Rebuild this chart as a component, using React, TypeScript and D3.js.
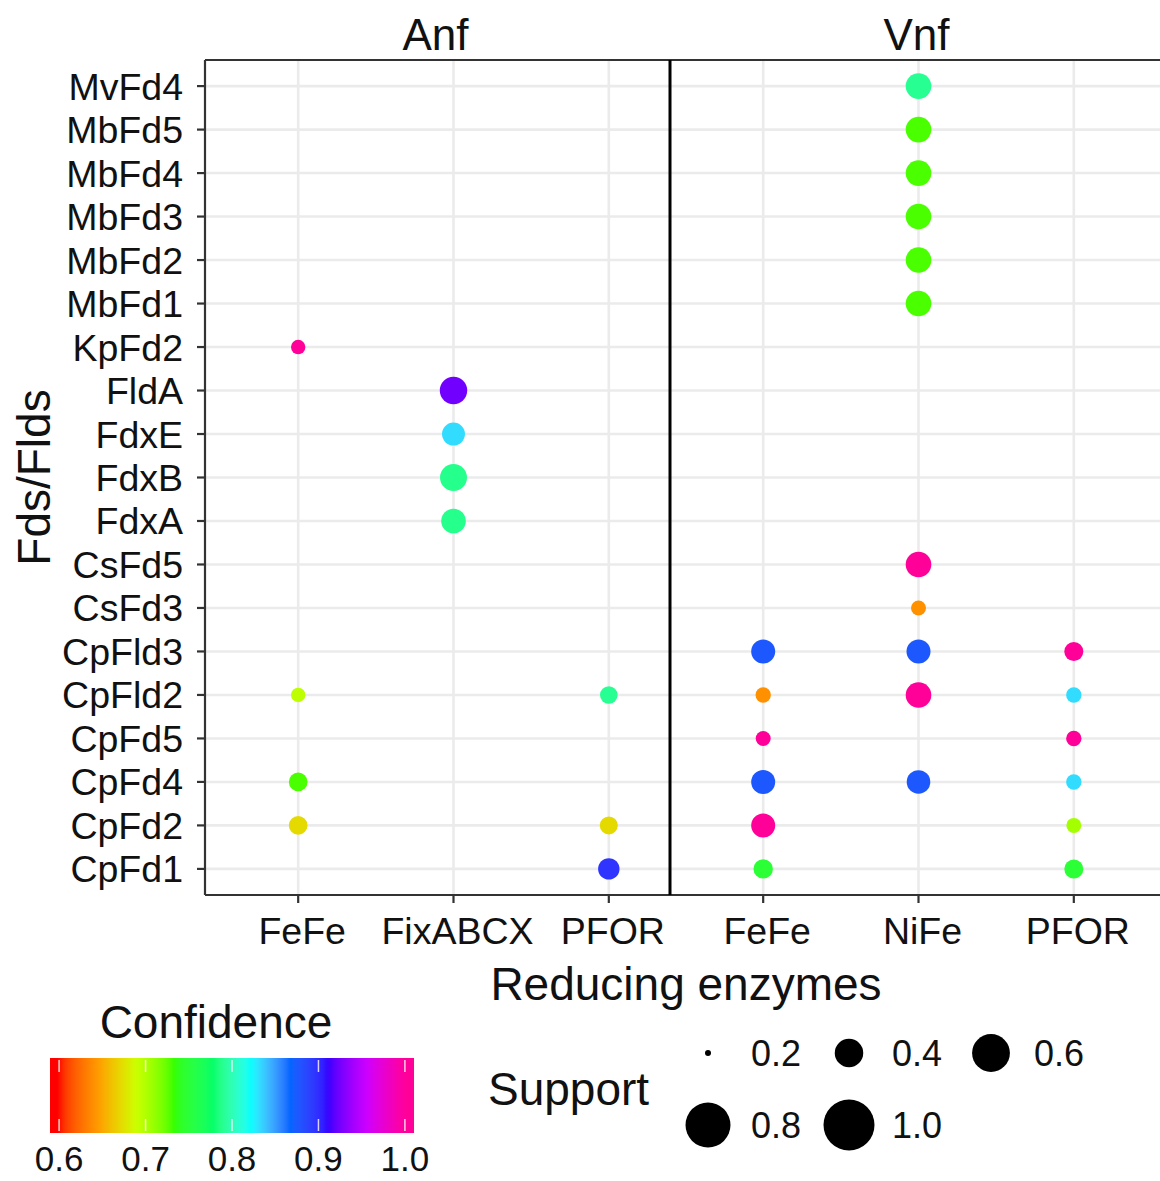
import * as d3 from "d3";
import { useEffect, useRef } from "react";

const WIDTH = 1160;
const HEIGHT = 1181;
const FONT = "'Liberation Sans', Arial, Helvetica, sans-serif";

// y categories, top to bottom
const fdIds = [
  "MvFd4", "MbFd5", "MbFd4", "MbFd3", "MbFd2", "MbFd1", "KpFd2", "FldA", "FdxE", "FdxB",
  "FdxA", "CsFd5", "CsFd3", "CpFld3", "CpFld2", "CpFd5", "CpFd4", "CpFd2", "CpFd1",
];

const anfEnzymes = ["FeFe", "FixABCX", "PFOR"];
const vnfEnzymes = ["FeFe", "NiFe", "PFOR"];

// [fd, enzyme, confidence, support]
const anfPoints: [string, string, number, number][] = [
  ["KpFd2", "FeFe", 1.0, 0.228],
  ["FldA", "FixABCX", 0.924, 0.381],
  ["FdxE", "FixABCX", 0.832, 0.314],
  ["FdxB", "FixABCX", 0.788, 0.374],
  ["FdxA", "FixABCX", 0.788, 0.337],
  ["CpFld2", "FeFe", 0.695, 0.228],
  ["CpFld2", "PFOR", 0.79, 0.253],
  ["CpFd4", "FeFe", 0.73, 0.263],
  ["CpFd2", "FeFe", 0.672, 0.263],
  ["CpFd2", "PFOR", 0.672, 0.257],
  ["CpFd1", "PFOR", 0.896, 0.294],
];

const vnfPoints: [string, string, number, number][] = [
  ["MvFd4", "NiFe", 0.79, 0.352],
  ["MbFd5", "NiFe", 0.73, 0.352],
  ["MbFd4", "NiFe", 0.73, 0.352],
  ["MbFd3", "NiFe", 0.73, 0.352],
  ["MbFd2", "NiFe", 0.73, 0.352],
  ["MbFd1", "NiFe", 0.73, 0.352],
  ["CsFd5", "NiFe", 1.0, 0.352],
  ["CsFd3", "NiFe", 0.64, 0.232],
  ["CpFld3", "FeFe", 0.876, 0.328],
  ["CpFld3", "NiFe", 0.876, 0.328],
  ["CpFld3", "PFOR", 1.0, 0.267],
  ["CpFld2", "FeFe", 0.64, 0.235],
  ["CpFld2", "NiFe", 1.0, 0.352],
  ["CpFld2", "PFOR", 0.832, 0.235],
  ["CpFd5", "FeFe", 1.0, 0.232],
  ["CpFd5", "PFOR", 1.0, 0.235],
  ["CpFd4", "FeFe", 0.876, 0.328],
  ["CpFd4", "NiFe", 0.876, 0.322],
  ["CpFd4", "PFOR", 0.832, 0.235],
  ["CpFd2", "FeFe", 1.0, 0.328],
  ["CpFd2", "PFOR", 0.705, 0.232],
  ["CpFd1", "FeFe", 0.748, 0.271],
  ["CpFd1", "PFOR", 0.748, 0.267],
];

const rainbow10 = [
  "#FF0000", "#FF9900", "#CCFF00", "#33FF00", "#00FF66",
  "#00FFFF", "#0066FF", "#3300FF", "#CC00FF", "#FF0099",
];
const confidenceTicks = [0.6, 0.7, 0.8, 0.9, 1.0];
const supportBreaks = [0.2, 0.4, 0.6, 0.8, 1.0];

const margin = { top: 60, bottom: 895, left: 205 };

function App() {
  const svgRef = useRef<SVGSVGElement | null>(null);

  useEffect(() => {
    if (!svgRef.current) return;
    const svg = d3.select(svgRef.current);
    svg.selectAll("*").remove();

    const color = d3
      .scaleLinear<string>()
      .domain(rainbow10.map((_, i) => 0.6 + (0.4 * i) / 9))
      .range(rainbow10)
      .interpolate(d3.interpolateLab)
      .clamp(true);

    // area-proportional size, like ggplot's scale_size
    const areaT = d3.scaleLinear().domain([0.2, 1.0]).range([0, 1]).clamp(true);
    const radius = d3.scaleLinear().domain([0, 1]).range([3, 25.5]);
    const r = (v: number) => radius(Math.sqrt(areaT(v)));

    const y = d3.scalePoint().domain(fdIds).range([margin.top, margin.bottom]).padding(0.6);

    const panels = [
      { name: "Anf", enzymes: anfEnzymes, points: anfPoints, x0: 205, x1: 702, clipR: 670 },
      { name: "Vnf", enzymes: vnfEnzymes, points: vnfPoints, x0: 670, x1: 1167, clipR: 1167 },
    ];

    svg.append("rect").attr("width", WIDTH).attr("height", HEIGHT).attr("fill", "white");

    panels.forEach((p) => {
      const x = d3.scalePoint().domain(p.enzymes).range([p.x0, p.x1]).padding(0.6);
      const g = svg.append("g");

      // grid
      g.selectAll(".hgrid")
        .data(fdIds)
        .join("line")
        .attr("x1", p.x0)
        .attr("x2", p.clipR)
        .attr("y1", (d) => y(d)!)
        .attr("y2", (d) => y(d)!)
        .attr("stroke", "#ebebeb")
        .attr("stroke-width", 2.6);
      g.selectAll(".vgrid")
        .data(p.enzymes)
        .join("line")
        .attr("x1", (d) => x(d)!)
        .attr("x2", (d) => x(d)!)
        .attr("y1", margin.top)
        .attr("y2", margin.bottom)
        .attr("stroke", "#ebebeb")
        .attr("stroke-width", 2.6);

      // points
      g.selectAll("circle")
        .data(p.points)
        .join("circle")
        .attr("cx", (d) => x(d[1])!)
        .attr("cy", (d) => y(d[0])!)
        .attr("r", (d) => r(d[3]))
        .attr("fill", (d) => color(d[2]));

      // bottom ticks + labels
      g.selectAll(".xtick")
        .data(p.enzymes)
        .join("line")
        .attr("x1", (d) => x(d)!)
        .attr("x2", (d) => x(d)!)
        .attr("y1", margin.bottom)
        .attr("y2", margin.bottom + 8)
        .attr("stroke", "#333")
        .attr("stroke-width", 2.2);
      g.selectAll(".xlab")
        .data(p.enzymes)
        .join("text")
        .attr("x", (d) => x(d)! + 4)
        .attr("y", 944)
        .attr("text-anchor", "middle")
        .attr("font-size", 37.5)
        .attr("font-family", FONT)
        .attr("fill", "#111")
        .text((d) => d);

      // strip label
      svg
        .append("text")
        .attr("x", (p.x0 + p.clipR) / 2 - 2)
        .attr("y", 50)
        .attr("text-anchor", "middle")
        .attr("font-size", 44)
        .attr("font-family", FONT)
        .attr("fill", "#111")
        .text(p.name);
    });

    // panel borders
    const border = (x1: number, y1: number, x2: number, y2: number, c: string, w: number) =>
      svg
        .append("line")
        .attr("x1", x1)
        .attr("y1", y1)
        .attr("x2", x2)
        .attr("y2", y2)
        .attr("stroke", c)
        .attr("stroke-width", w);
    border(margin.left, margin.top, WIDTH, margin.top, "#333", 2.2);
    border(margin.left, margin.bottom, WIDTH, margin.bottom, "#333", 2.2);
    border(margin.left, margin.top, margin.left, margin.bottom, "#333", 2.2);
    border(670, margin.top, 670, margin.bottom, "#000", 3);

    // y axis
    const yAxis = svg.append("g");
    yAxis
      .selectAll("line")
      .data(fdIds)
      .join("line")
      .attr("x1", margin.left - 8)
      .attr("x2", margin.left)
      .attr("y1", (d) => y(d)!)
      .attr("y2", (d) => y(d)!)
      .attr("stroke", "#333")
      .attr("stroke-width", 2.2);
    yAxis
      .selectAll("text")
      .data(fdIds)
      .join("text")
      .attr("x", 183)
      .attr("y", (d) => y(d)!)
      .attr("dy", "0.36em")
      .attr("text-anchor", "end")
      .attr("font-size", 37.5)
      .attr("font-family", FONT)
      .attr("fill", "#111")
      .text((d) => d);

    // axis titles
    svg
      .append("text")
      .attr("transform", `translate(50,${(margin.top + margin.bottom) / 2}) rotate(-90)`)
      .attr("text-anchor", "middle")
      .attr("font-size", 46)
      .attr("font-family", FONT)
      .attr("fill", "#111")
      .text("Fds/Flds");
    svg
      .append("text")
      .attr("x", 686)
      .attr("y", 1000)
      .attr("text-anchor", "middle")
      .attr("font-size", 46)
      .attr("font-family", FONT)
      .attr("fill", "#111")
      .text("Reducing enzymes");

    // confidence colorbar
    const bar = { x: 50, y: 1058, w: 364, h: 75 };
    const barX = d3
      .scaleLinear()
      .domain([0.6, 1.0])
      .range([bar.x + bar.w / 40, bar.x + bar.w - bar.w / 40]);
    const grad = svg
      .append("defs")
      .append("linearGradient")
      .attr("id", "confGrad")
      .attr("x1", "0%")
      .attr("x2", "100%");
    d3.range(0, 101).forEach((i) => {
      const px = bar.x + (bar.w * i) / 100;
      grad
        .append("stop")
        .attr("offset", `${i}%`)
        .attr("stop-color", color(barX.invert(px)));
    });
    svg
      .append("text")
      .attr("x", 216)
      .attr("y", 1038)
      .attr("text-anchor", "middle")
      .attr("font-size", 46)
      .attr("font-family", FONT)
      .attr("fill", "#111")
      .text("Confidence");
    svg
      .append("rect")
      .attr("x", bar.x)
      .attr("y", bar.y)
      .attr("width", bar.w)
      .attr("height", bar.h)
      .attr("fill", "url(#confGrad)");
    const cbTicks = svg.append("g");
    confidenceTicks.forEach((t) => {
      cbTicks
        .append("line")
        .attr("x1", barX(t))
        .attr("x2", barX(t))
        .attr("y1", bar.y + 2)
        .attr("y2", bar.y + 14)
        .attr("stroke", "white")
        .attr("stroke-opacity", 0.8)
        .attr("stroke-width", 1.5);
      cbTicks
        .append("line")
        .attr("x1", barX(t))
        .attr("x2", barX(t))
        .attr("y1", bar.y + bar.h - 14)
        .attr("y2", bar.y + bar.h - 2)
        .attr("stroke", "white")
        .attr("stroke-opacity", 0.8)
        .attr("stroke-width", 1.5);
      cbTicks
        .append("text")
        .attr("x", barX(t))
        .attr("y", 1171)
        .attr("text-anchor", "middle")
        .attr("font-size", 35)
        .attr("font-family", FONT)
        .attr("fill", "#111")
        .text(t.toFixed(1));
    });

    // support legend
    svg
      .append("text")
      .attr("x", 488)
      .attr("y", 1105)
      .attr("font-size", 46)
      .attr("font-family", FONT)
      .attr("fill", "#111")
      .text("Support");
    const colX = [708, 849, 991];
    const rowY = [1053, 1125];
    const keys = svg
      .append("g")
      .selectAll("g")
      .data(supportBreaks)
      .join("g")
      .attr("transform", (_, i) => `translate(${colX[i % 3]},${rowY[Math.floor(i / 3)]})`);
    keys.append("circle").attr("r", (d) => r(d)).attr("fill", "black");
    keys
      .append("text")
      .attr("x", 43)
      .attr("dy", "0.36em")
      .attr("font-size", 36)
      .attr("font-family", FONT)
      .attr("fill", "#111")
      .text((d) => d.toFixed(1));
  }, []);

  return (
    <svg
      ref={svgRef}
      width={WIDTH}
      height={HEIGHT}
      style={{ position: "absolute", left: 0, top: 0 }}
    />
  );
}

export default App;
